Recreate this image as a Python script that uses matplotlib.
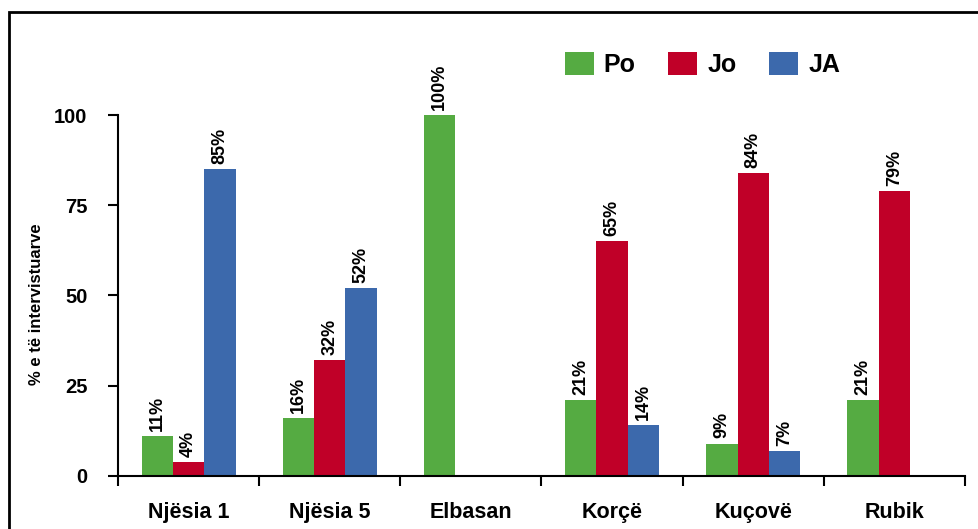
import numpy as np
import matplotlib.pyplot as plt
from matplotlib.patches import Rectangle

# Data
categories = ['Njësia 1', 'Njësia 5', 'Elbasan', 'Korçë', 'Kuçovë', 'Rubik']
po = [11, 16, 100, 21, 9, 21]
jo = [4, 32, 0, 65, 84, 79]
ja = [85, 52, 0, 14, 7, 0]
series_names = ['Po', 'Jo', 'JA']
yticks = [0, 25, 50, 75, 100]

colors = ['#55AB42', '#C00028', '#3C69AC']
plt.rcParams['font.family'] = ['Liberation Sans', 'DejaVu Sans']

fig = plt.figure(figsize=(9.79, 5.29), dpi=100)
ax = fig.add_axes([0.1205, 0.1002, 0.8652, 0.6824])

x = np.arange(len(categories))
w = 0.222
handles = []
for i, (vals, c) in enumerate(zip([po, jo, ja], colors)):
    xs = x + (i - 1) * w
    b = ax.bar(xs, vals, width=w, color=c, edgecolor='none', label=series_names[i])
    handles.append(b)
    for xi, v in zip(xs, vals):
        if v > 0:
            ax.text(xi, v + 1.4, f'{v}%', rotation=90, ha='center', va='bottom',
                    fontsize=13, fontweight='bold')

ax.set_xlim(-0.5, len(categories) - 0.5)
ax.set_ylim(0, 100)
ax.set_yticks(yticks)
ax.set_yticklabels([str(t) for t in yticks], fontsize=14.5, fontweight='bold')
ax.set_xticks(x)
ax.set_xticklabels(categories, fontsize=15.5, fontweight='bold')
ax.set_xticks(np.arange(-0.5, len(categories)), minor=True)
ax.tick_params(axis='x', which='major', length=0, pad=19)
ax.tick_params(axis='x', which='minor', length=7, width=1.5, direction='out')
ax.tick_params(axis='y', length=7, width=1.5, direction='out', pad=15)
for s in ['top', 'right']:
    ax.spines[s].set_visible(False)
for s in ['left', 'bottom']:
    ax.spines[s].set_linewidth(1.5)
ax.set_ylabel('% e të intervistuarve', fontsize=12, fontweight='bold')
ax.yaxis.set_label_coords(-0.087, 0.476)

fig.legend(handles=handles, labels=series_names, loc='upper left', bbox_to_anchor=(0.554, 0.945),
           ncol=3, frameon=False, prop={'weight': 'bold', 'size': 18},
           handlelength=1.16, handleheight=1.08, columnspacing=1.3, handletextpad=0.4)

# outer frame (clipped by figure edges on right and bottom)
fig.patches.append(Rectangle((9 / 979, -0.1), 1.2, 1.1 - 12 / 529, transform=fig.transFigure,
                             fill=False, edgecolor='black', linewidth=2))

fig.savefig('out.png', dpi=100)
